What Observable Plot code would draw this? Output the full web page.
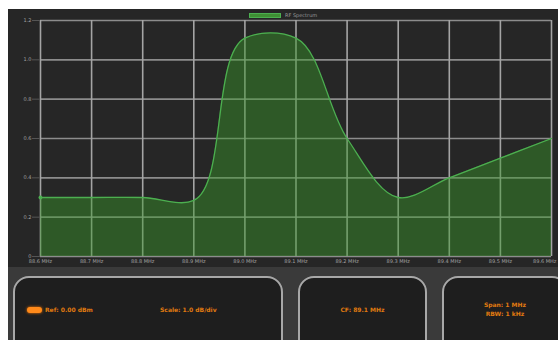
<!DOCTYPE html>
<html>
<head>
<meta charset="utf-8">
<script src="https://cdn.jsdelivr.net/npm/d3@7"></script>
<script src="https://cdn.jsdelivr.net/npm/@observablehq/plot@0.6"></script>
<style>
  html, body { margin: 0; padding: 0; background: #fff; }
  body { width: 558px; height: 340px; overflow: hidden; position: relative; font-family: "DejaVu Sans", sans-serif; }
  #frame { position: absolute; left: 8px; top: 9px; width: 550px; height: 331px; background: #262626; overflow: hidden; }
  #chart { position: absolute; left: 0; top: 0; }
  #legend { position: absolute; left: 241px; top: 3px; display: flex; align-items: center; gap: 4px; color: #9a9a9a; font-size: 5px; }
  #legend .sw { width: 32px; height: 5px; background: #3f8f34; border: 1px solid #4caf50; box-sizing: border-box; }
  #panel { position: absolute; left: 0; top: 258px; width: 550px; height: 73px; background: #3a3a3a; }
  .box { position: absolute; top: 9px; height: 80px; background: #1e1e1e; border: 2px solid #a8a8a8; border-radius: 16px; box-sizing: border-box; }
  .txt { position: absolute; color: #e07a10; font-size: 6px; font-weight: bold; white-space: nowrap; }
  .led { position: absolute; width: 15px; height: 6px; border-radius: 3px; background: #ff8a1a; box-shadow: 0 0 3px #ff7a00; }
</style>
</head>
<body>
<div id="frame">
  <div id="chart"></div>
  <div id="legend"><div class="sw"></div><span id="legendText"></span></div>
  <div id="panel"></div>
</div>
<script>
// Frequency sweep, MHz
const freqs = [88.6, 88.7, 88.8, 88.9, 89.0, 89.1, 89.2, 89.3, 89.4, 89.5, 89.6];
const xLabels = ["88.6 MHz", "88.7 MHz", "88.8 MHz", "88.9 MHz", "89.0 MHz", "89.1 MHz", "89.2 MHz", "89.3 MHz", "89.4 MHz", "89.5 MHz", "89.6 MHz"];
// Measured level at each frequency
const levels = [0.30, 0.30, 0.30, 0.285, 1.11, 1.11, 0.60, 0.30, 0.40, 0.50, 0.60];
const yTicks = [0, 0.2, 0.4, 0.6, 0.8, 1.0, 1.2];
const yLabels = ["0", "0.2", "0.4", "0.6", "0.8", "1.0", "1.2"];
const seriesName = "RF Spectrum";

// Readouts shown under the trace
const refText = "Ref: 0.00 dBm";
const scaleText = "Scale: 1.0 dB/div";
const cfText = "CF: 89.1 MHz";
const spanText = "Span: 1 MHz";
const rbwText = "RBW: 1 kHz";

const data = freqs.map((f, i) => ({freq: f, level: levels[i]}));

// Smooth spline through the sweep points, with modest overshoot near the steep edges
const trace = d3.curveCatmullRom.alpha(0.7);

const lastF = freqs[freqs.length - 1];
const fmt = (d) => xLabels[freqs.indexOf(d)];

const chart = Plot.plot({
  width: 550,
  height: 258,
  marginLeft: 32,
  marginRight: 7,
  marginTop: 11,
  marginBottom: 11,
  style: {background: "transparent", color: "#a0a0a0", fontSize: "5px", fontFamily: "DejaVu Sans"},
  x: {domain: [88.6, 89.6], label: null},
  y: {domain: [0, 1.2], label: null},
  marks: [
    Plot.gridY(yTicks, {stroke: "#8c8c8c", strokeOpacity: 1, strokeWidth: 1.6}),
    Plot.gridX(freqs, {stroke: "#a4a4a4", strokeOpacity: 1, strokeWidth: 1.6}),
    Plot.areaY(data, {x: "freq", y: "level", curve: trace, fill: "#3a9a2a", fillOpacity: 0.45}),
    Plot.lineY(data, {x: "freq", y: "level", curve: trace, stroke: "#4caf50", strokeWidth: 1.3}),
    Plot.dot(data.slice(0, 1), {x: "freq", y: "level", r: 2, fill: "#4caf50"}),
    Plot.axisX({ticks: freqs.slice(0, -1), tickFormat: fmt, tickSize: 0, tickPadding: 3, fontSize: 5, fill: "#a0a0a0", label: null}),
    Plot.axisX({ticks: [lastF], tickFormat: fmt, tickSize: 0, tickPadding: 3, fontSize: 5, fill: "#a0a0a0", textAnchor: "end", dx: 5, label: null}),
    Plot.axisY({ticks: yTicks, tickFormat: (d, i) => yLabels[i], tickSize: 8, tickPadding: 1, stroke: "#555", fontSize: 5, fill: "#a0a0a0", label: null})
  ]
});
document.getElementById("chart").append(chart);
document.getElementById("legendText").textContent = seriesName;

// Readout boxes
const panel = document.getElementById("panel");
function box(left, width) {
  const b = document.createElement("div");
  b.className = "box";
  b.style.left = left + "px";
  b.style.width = width + "px";
  panel.append(b);
  return b;
}
function text(parent, str, left, top, center) {
  const t = document.createElement("div");
  t.className = "txt";
  t.textContent = str;
  t.style.top = top + "px";
  if (center) { t.style.left = "0"; t.style.right = "0"; t.style.textAlign = "center"; }
  else t.style.left = left + "px";
  parent.append(t);
}
const b1 = box(5, 270);
const led = document.createElement("div");
led.className = "led";
led.style.left = "12px";
led.style.top = "29px";
b1.append(led);
text(b1, refText, 30, 28);
text(b1, scaleText, 145, 28);
const b2 = box(290, 129);
text(b2, cfText, 0, 28, true);
const b3 = box(434, 126);
text(b3, spanText, 0, 23, true);
text(b3, rbwText, 0, 32, true);
</script>
</body>
</html>
